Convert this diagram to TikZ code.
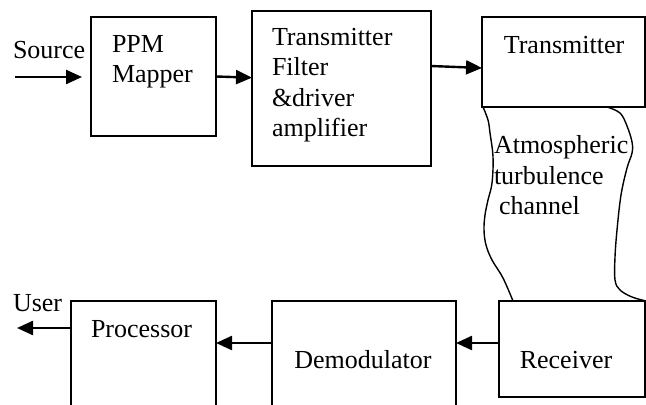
\documentclass[tikz,border=0pt]{standalone}
\usepackage{fontspec}
\setmainfont{Liberation Serif}
\usetikzlibrary{arrows.meta,calc,positioning}

\begin{document}
\begin{tikzpicture}[x=0.5pt, y=-0.5pt,
    link block/.style={draw, line width=0.8pt, inner sep=0pt, outer sep=0pt, anchor=north west},
    link text/.style={inner sep=0pt, outer sep=0pt, font=\fontsize{13}{15.25}\selectfont, align=left},
    chain/.style={draw, ->, >={Triangle[length=8pt, width=7pt]}, line width=1.2pt},
    channel/.style={draw, line width=0.7pt}
  ]
  \useasboundingbox (0,0) rectangle (646,405);
  \clip (0,0) rectangle (646,405);

  \begin{scope}[every node/.style={link block}]
  \node [minimum width=62.5pt, minimum height=59.5pt] (ppm) at (91,17) {};
  \node [minimum width=89.5pt, minimum height=77.5pt] (filt) at (252,11) {};
  \node [minimum width=81.5pt, minimum height=45pt] (tx) at (482,17) {};
  \node [minimum width=73pt, minimum height=48pt] (rx) at (499,301) {};
  \node [minimum width=92pt, minimum height=64.5pt] (demod) at (272,301) {};
  \node [minimum width=72.5pt, minimum height=64.5pt] (proc) at (71,301) {};
  \end{scope}

  \begin{scope}[every node/.style={link text}]
  \node [anchor=base west] (source) at (13,59) {Source};
  \node [anchor=base west] (ppm text) at (112,83) {PPM\\Mapper};
  \node [anchor=base west] (filt text) at (272,137) {Transmitter\\Filter\\\&driver\\amplifier};
  \node [anchor=base] (tx text) at (564,54) {Transmitter};
  \node [anchor=base west] (atm text) at (494,215) {Atmospheric\\turbulence\\\hspace{2.5pt}channel};
  \node [anchor=base] (rx text) at (566,368) {Receiver};
  \node [anchor=base] (demod text) at (363,368) {Demodulator};
  \node [anchor=base west] (proc text) at (91,337) {Processor};
  \node [anchor=base west] (user) at (13,311) {User};
  \end{scope}

  \coordinate (src) at (15,77);
  \coordinate (usr) at (17,328);

  \draw [channel] plot [smooth, tension=0.6] coordinates {(483,107) (488,120) (490,133) (493,157) (492,183) (488,200) (485,215) (484,230) (486,245) (492,260) (503,278) (513,301)};
  \draw [channel] plot [smooth, tension=0.6] coordinates {(607,107) (620,113) (627,126) (632,142) (632,153) (627,168) (621,195) (617,230) (615,257) (615,280) (620,290) (632,297) (646,301)};

  \begin{scope}[every path/.style={chain}]
  \path [shorten >=4.5pt] (src) -- (src -| ppm.west);
  \path (ppm.east) -- ($(filt.north west)!0.43!(filt.south west)$);
  \path ([yshift=-27.5pt]filt.north east) -- ([yshift=-25.5pt]tx.north west);
  \path ([yshift=-21pt]rx.north west) coordinate (r1) -- (r1 -| demod.east);
  \path ([yshift=-21pt]demod.north west) coordinate (d1) -- (d1 -| proc.east);
  \path ([yshift=-13.5pt]proc.north west) -- (usr);
  \end{scope}
\end{tikzpicture}
\end{document}
